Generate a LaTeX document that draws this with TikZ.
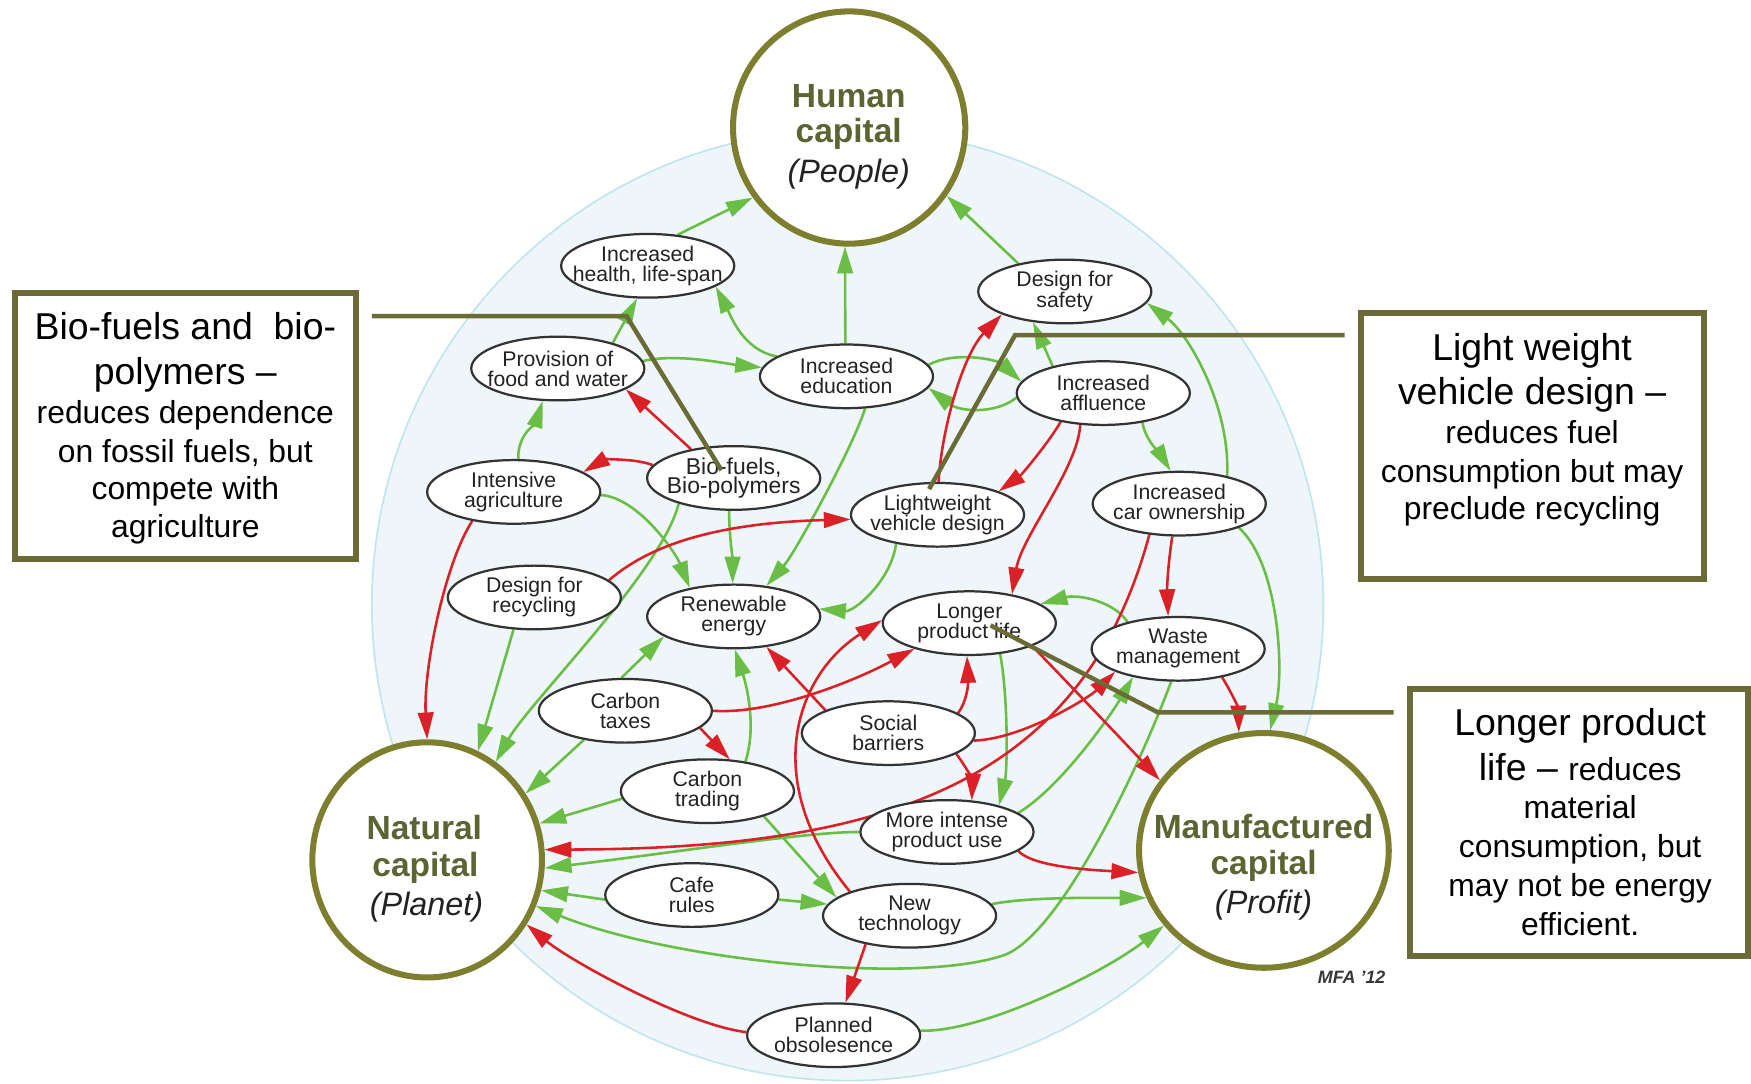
\documentclass[tikz,border=0pt]{standalone}
\usepackage{fontspec}
\setmainfont{Liberation Sans}
\usetikzlibrary{arrows.meta,shapes.geometric}

\definecolor{olivering}{HTML}{7E7F2E}
\definecolor{olivetext}{HTML}{5B6433}
\definecolor{oliveline}{HTML}{6B6B38}
\definecolor{posgreen}{HTML}{6ABD45}
\definecolor{negred}{HTML}{DA2128}
\definecolor{haze}{HTML}{EEF6F9}
\definecolor{hazeedge}{HTML}{C2E4EF}
\definecolor{inkgray}{HTML}{222222}
\definecolor{ellgray}{HTML}{333333}

\pgfdeclarelayer{bg}
\pgfdeclarelayer{edges}
\pgfsetlayers{bg,edges,main}

% two centred lines of zero width, so the ellipse keeps its fixed size
\newcommand\twoline[2]{\makebox[0pt]{\vbox{\halign{\hfil##\hfil\cr#1\cr#2\cr}}}}

\tikzset{
  factor/.style={ellipse, draw=ellgray, line width=2pt, fill=white,
    minimum width=155pt, minimum height=57pt, inner sep=0pt, text=inkgray,
    font=\fontsize{19pt}{18pt}\selectfont},
  capital/.style={ellipse, draw=olivering, line width=5.4pt, fill=white, inner sep=0pt},
  captitle/.style={anchor=base, inner sep=0pt, text=olivetext,
    font=\fontsize{30pt}{30pt}\selectfont\bfseries},
  capsub/.style={anchor=base, inner sep=0pt, text=inkgray,
    font=\fontsize{29pt}{29pt}\selectfont\itshape},
  notebox/.style={rectangle, draw=oliveline, line width=5.4pt, fill=white, inner sep=0pt},
  notebig/.style={anchor=base, inner sep=0pt, font=\fontsize{33.5pt}{38pt}\selectfont},
  notesmall/.style={anchor=base, inner sep=0pt, font=\fontsize{28.5pt}{33pt}\selectfont},
  greenarrow/.style={draw=posgreen, line width=2.3pt, -{Triangle[length=24pt,width=14pt]}},
  redarrow/.style={draw=negred, line width=2.3pt, -{Triangle[length=24pt,width=14pt]}},
  leaderline/.style={draw=oliveline, line width=4pt, line join=miter},
}

\begin{document}
\begin{tikzpicture}[x=1pt,y=-1pt]
\useasboundingbox (0,0) rectangle (1568,970);

% pale disc behind the network
\begin{pgfonlayer}{bg}
  \filldraw[fill=haze, draw=hazeedge, line width=1.5pt] (759,541.7) circle[radius=426];
\end{pgfonlayer}

% the three capitals
\node[capital, minimum width=208pt, minimum height=208pt] (hu) at (760.4,114.2) {};
\node[capital, minimum width=205.6pt, minimum height=210.6pt] (na) at (382.5,770) {};
\node[capital, minimum width=223.6pt, minimum height=210.2pt] (ma) at (1131.8,761.5) {};

\node[captitle] (hut1) at (760,96) {Human};
\node[captitle] (hut2) at (760,128) {capital};
\node[capsub]   (hut3) at (760,163) {(People)};
\node[captitle] (nat1) at (380,752) {Natural};
\node[captitle] (nat2) at (381,785) {capital};
\node[capsub]   (nat3) at (382,820) {(Planet)};
\node[captitle] (mat1) at (1131.5,751) {Manufactured};
\node[captitle] (mat2) at (1131.5,783) {capital};
\node[capsub]   (mat3) at (1131.5,818) {(Profit)};

% factors
\node[factor] (health) at (580,238) {\twoline{Increased}{health, life-span}};
\node[factor] (provision) at (499.5,330) {\twoline{Provision of}{food and water}};
\node[factor] (education) at (758,337) {\twoline{Increased}{education}};
\node[factor] (safety) at (953.5,261) {\twoline{Design for}{safety}};
\node[factor] (affluence) at (988,352) {\twoline{Increased}{affluence}};
\node[factor] (agriculture) at (460,440.5) {\twoline{Intensive}{agriculture}};
\node[factor, font=\fontsize{20.5pt}{17.5pt}\selectfont] (biofuels) at (657,428) {\twoline{Bio-fuels,}{Bio-polymers}};
\node[factor] (lightweight) at (839.5,461) {\twoline{Lightweight}{vehicle design}};
\node[factor] (car) at (1056,451) {\twoline{Increased}{car ownership}};
\node[factor] (recycling) at (478.5,535) {\twoline{Design for}{recycling}};
\node[factor] (renewable) at (657,552) {\twoline{Renewable}{energy}};
\node[factor] (longer) at (868,558) {\twoline{Longer}{product life}};
\node[factor] (waste) at (1055,581) {\twoline{Waste}{management}};
\node[factor] (taxes) at (560,636.5) {\twoline{Carbon}{taxes}};
\node[factor] (social) at (795.5,656.5) {\twoline{Social}{barriers}};
\node[factor] (trading) at (633.5,708.5) {\twoline{Carbon}{trading}};
\node[factor] (intense) at (848,745) {\twoline{More intense}{product use}};
\node[factor] (cafe) at (619.5,801.5) {\twoline{Cafe}{rules}};
\node[factor] (newtech) at (814.5,820) {\twoline{New}{technology}};
\node[factor] (obsolescence) at (746.5,927) {\twoline{Planned}{obsolesence}};

\node[anchor=base, inner sep=0pt, text=inkgray!90, font=\fontsize{16pt}{16pt}\selectfont\bfseries\itshape] (credit) at (1210.4,880.6) {MFA ’12};

% connectors
\begin{pgfonlayer}{edges}
% reinforcing links
\draw[greenarrow] (health.46) -- (hu.216);
\draw[greenarrow] (provision.25) -- (health.252);
\draw[greenarrow] (education.164) .. controls (665.6,314) and (654,282) .. (health.343);
\draw[greenarrow] (education.92) -- (hu.268);
\draw[greenarrow] (provision.5) .. controls (606,316) and (652,326) .. (education.174);
\draw[greenarrow] (agriculture.82) .. controls (463,390) and (480,378) .. (provision.245);
\draw[greenarrow] (safety.149) -- (hu.325);
\draw[greenarrow] (education.8) .. controls (855,314) and (893,322) .. (affluence.172);
\draw[greenarrow] (affluence.183) .. controls (890,372) and (858,368) .. (education.352);
\draw[greenarrow] (affluence.152) -- (safety.224);
\draw[greenarrow] (affluence.323) .. controls (1026,395) and (1040,408) .. (car.105);
\draw[greenarrow] (car.30) .. controls (1102,365) and (1065,300) .. (safety.352);
\draw[greenarrow] (car.338) .. controls (1145,505) and (1150,600) .. (ma.87);
\draw[greenarrow] (agriculture.358) .. controls (572,446) and (605,495) .. (renewable.147);
\draw[greenarrow] (biofuels.262) .. controls (653,480) and (656,500) .. (renewable.92);
\draw[greenarrow] (biofuels.205) .. controls (593,511) and (473,630) .. (na.55);
\draw[greenarrow] (education.300) .. controls (764,400) and (712,495) .. (renewable.43);
\draw[greenarrow] (lightweight.215) .. controls (798,520) and (765,548) .. (renewable.5);
\draw[greenarrow] (recycling.237) -- (na.65);
\draw[greenarrow] (taxes.97) -- (renewable.196);
\draw[greenarrow] (taxes.215) -- (na.34);
\draw[greenarrow] (trading.38) .. controls (678,650) and (668,612) .. (renewable.272);
\draw[greenarrow] (trading.185) -- (na.18);
\draw[greenarrow] (trading.336) -- (newtech.166);
\draw[greenarrow] (cafe.183) -- (na.345);
\draw[greenarrow] (cafe.357) -- (newtech.172);
\draw[greenarrow] (intense.180) .. controls (720,745) and (600,764) .. (na.356);
\draw[greenarrow] (waste.258) .. controls (1019,690) and (950,835) .. (900,855)
                   .. controls (820,883) and (600,860) .. (na.337);
\draw[greenarrow] (intense.15) .. controls (950,705) and (995,640) .. (waste.212);
\draw[greenarrow] (newtech.8) .. controls (920,803) and (985,804) .. (ma.202);
\draw[greenarrow] (obsolescence.3) .. controls (880,925) and (990,870) .. (ma.217);
\draw[greenarrow] (waste.152) .. controls (997,538) and (965,532) .. (longer.15);
\draw[greenarrow] (longer.315) .. controls (903,625) and (902,690) .. (intense.27);
% conflicting links
\draw[redarrow] (biofuels.146) -- (provision.343);
\draw[redarrow] (biofuels.171) .. controls (568,410) and (540,412) .. (agriculture.16);
\draw[redarrow] (agriculture.215) .. controls (398,505) and (379,600) .. (na.90);
\draw[redarrow] (recycling.13) .. controls (585,485) and (650,468) .. (lightweight.183);
\draw[redarrow] (lightweight.88) .. controls (843,385) and (862,318) .. (safety.200);
\draw[redarrow] (affluence.214) .. controls (940,395) and (915,425) .. (lightweight.21);
\draw[redarrow] (affluence.234) .. controls (965,420) and (915,480) .. (longer.34);
\draw[redarrow] (car.258) .. controls (1046,505) and (1045,525) .. (waste.107);
\draw[redarrow] (car.226) .. controls (969,702) and (792.5,760) .. (na.5);
\draw[redarrow] (taxes.0) .. controls (690,640) and (765,610) .. (longer.205);
\draw[redarrow] (taxes.347) -- (trading.55);
\draw[redarrow] (social.160) -- (renewable.317);
\draw[redarrow] (social.16) .. controls (866,628) and (867,612) .. (longer.266);
\draw[redarrow] (social.355) .. controls (915,662) and (975,625) .. (waste.200);
\draw[redarrow] (social.343) .. controls (866,688) and (871,700) .. (intense.52);
\draw[redarrow] (newtech.158) .. controls (680,700) and (712,605) .. (longer.178);
\draw[redarrow] (newtech.213) -- (obsolescence.70);
\draw[redarrow] (obsolescence.178) .. controls (615,918) and (510,860) .. (na.327);
\draw[redarrow] (longer.340) .. controls (950,605) and (1010,668) .. (ma.146);
\draw[redarrow] (intense.345) .. controls (925,776) and (975,779) .. (ma.190);
\draw[redarrow] (waste.327) .. controls (1103,620) and (1109,635) .. (ma.102);
\end{pgfonlayer}

% annotation boxes
\node[notebox, minimum width=305.8pt, minimum height=238.2pt] (bionote) at (166,381.8) {};
\node[notebig]   (bio1) at (166,304) {Bio-fuels and~ bio-};
\node[notebig]   (bio2) at (166,344) {polymers –};
\node[notesmall] (bio3) at (166,379) {reduces dependence};
\node[notesmall] (bio4) at (166,414) {on fossil fuels, but};
\node[notesmall] (bio5) at (166,447.5) {compete with};
\node[notesmall] (bio6) at (166,481.5) {agriculture};

\node[notebox, minimum width=307.2pt, minimum height=238pt] (lwnote) at (1372.3,399.3) {};
\node[notebig]   (lw1) at (1372,322.5) {Light weight};
\node[notebig]   (lw2) at (1372,362) {vehicle design –};
\node[notesmall] (lw3) at (1372,397.5) {reduces fuel};
\node[notesmall] (lw4) at (1372,432) {consumption but may};
\node[notesmall] (lw5) at (1372,465.5) {preclude recycling};

\node[notebox, minimum width=302pt, minimum height=239pt] (lpnote) at (1414,736.5) {};
\node[notebig]   (lp1) at (1415,659) {Longer product};
\node[notebig]   (lp2) at (1415,699) {life – {\fontsize{28.5pt}{33pt}\selectfont reduces}};
\node[notesmall] (lp3) at (1415,733) {material};
\node[notesmall] (lp4) at (1415,768) {consumption, but};
\node[notesmall] (lp5) at (1415,803) {may not be energy};
\node[notesmall] (lp6) at (1415,838) {efficient.};

% leader lines from the notes into the factors
\coordinate (bioA) at (333,283);
\coordinate (bioB) at (561,283);
\coordinate (bioC) at (646,421);
\draw[leaderline] (bioA) -- (bioB) -- (bioC);
\coordinate (lwA) at (1204,300);
\coordinate (lwB) at (909,300);
\coordinate (lwC) at (832,438);
\draw[leaderline] (lwA) -- (lwB) -- (lwC);
\coordinate (lpA) at (1248,638);
\coordinate (lpB) at (1037,638);
\coordinate (lpC) at (887,560);
\draw[leaderline] (lpA) -- (lpB) -- (lpC);
\end{tikzpicture}
\end{document}
